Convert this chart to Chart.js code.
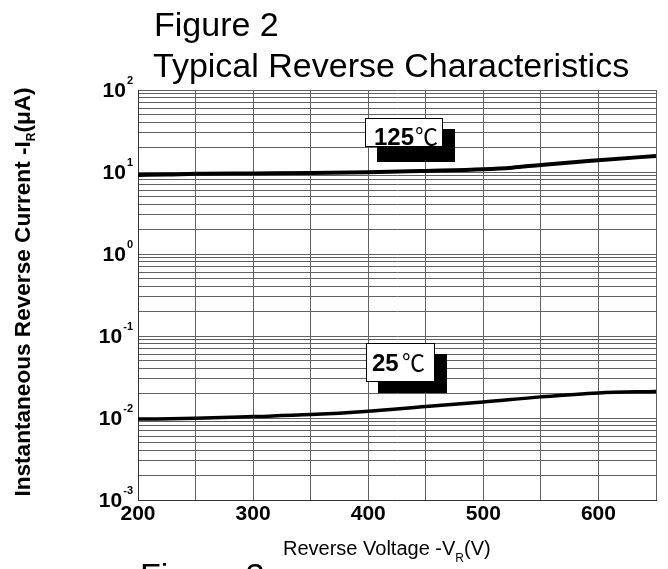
<!DOCTYPE html>
<html>
<head>
<meta charset="utf-8">
<script src="https://cdn.jsdelivr.net/npm/chart.js@4/dist/chart.umd.min.js"></script>
<style>
html,body{margin:0;padding:0;background:#fff;overflow:hidden}
#wrap{position:relative;width:668px;height:569px}
</style>
</head>
<body>
<div id="wrap"><canvas id="c" width="668" height="569"></canvas></div>
<script>
// ---- data ----
const voltages125 = [200, 225, 250, 300, 350, 400, 450, 500, 525, 550, 600, 650];
const current125  = [9.2, 9.3, 9.5, 9.6, 9.7, 9.9, 10.3, 10.8, 11.3, 12.2, 13.9, 15.7];
const voltages25  = [200, 250, 300, 350, 400, 450, 500, 550, 600, 650];
const current25   = [0.0097, 0.0099, 0.0104, 0.0110, 0.0121, 0.0138, 0.0157, 0.0181, 0.0202, 0.0211];
const xTicks      = [200, 250, 300, 350, 400, 450, 500, 550, 600, 650];
const xTickLabels = ['200', '', '300', '', '400', '', '500', '', '600', ''];
const yDecades    = [-3, -2, -1, 0, 1, 2];
const yMinorSteps = [1, 2, 3, 4, 5, 6, 7, 8, 9];
const seriesNames = ['125', '25'];
const titleLines  = ['Figure 2', 'Typical Reverse Characteristics'];

const yTicks = [];
yDecades.forEach((d, i) => {
  if (i === yDecades.length - 1) { yTicks.push(Math.pow(10, d)); return; }
  yMinorSteps.forEach(m => yTicks.push(m * Math.pow(10, d)));
});

const SANS = '"Liberation Sans", Arial, sans-serif';
const GRID = '#606060';

const textPlugin = {
  id: 'texts',
  afterDraw(chart) {
    const ctx = chart.ctx;
    const ys = chart.scales.y;
    ctx.save();
    ctx.fillStyle = '#000';
    ctx.textBaseline = 'alphabetic';

    // titles
    ctx.font = '34px ' + SANS;
    ctx.textAlign = 'left';
    ctx.fillText(titleLines[0], 154, 36);
    ctx.fillText(titleLines[1], 153, 77);
    ctx.fillText('Figure 3', 140, 587);

    // y tick labels 10^n
    yDecades.forEach(d => {
      const py = ys.getPixelForValue(Math.pow(10, d));
      const exp = String(d);
      ctx.font = 'bold 11px ' + SANS;
      const ew = ctx.measureText(exp).width;
      ctx.textAlign = 'left';
      ctx.fillText(exp, 133 - ew, py - 6);
      ctx.font = 'bold 21px ' + SANS;
      ctx.textAlign = 'right';
      ctx.fillText('10', 133 - ew - 1, py + 7);
    });

    // x axis title
    ctx.textAlign = 'left';
    let x = 283;
    ctx.font = '20px ' + SANS;
    const t1 = 'Reverse Voltage -V';
    ctx.fillText(t1, x, 555); x += ctx.measureText(t1).width;
    ctx.font = '12px ' + SANS;
    ctx.fillText('R', x, 562); x += ctx.measureText('R').width;
    ctx.font = '20px ' + SANS;
    ctx.fillText('(V)', x, 555);

    // y axis title (rotated)
    ctx.save();
    ctx.translate(22, 292);
    ctx.rotate(-Math.PI / 2);
    const a = 'Instantaneous Reverse Current -I', b = 'R', c = '(\u03BCA)';
    ctx.font = 'bold 22.6px ' + SANS; const wa = ctx.measureText(a).width, wc = ctx.measureText(c).width;
    ctx.font = 'bold 12px ' + SANS; const wb = ctx.measureText(b).width;
    let tx = -(wa + wb + wc) / 2;
    ctx.font = 'bold 22.6px ' + SANS; ctx.fillText(a, tx, 8); tx += wa;
    ctx.font = 'bold 12px ' + SANS; ctx.fillText(b, tx, 13); tx += wb;
    ctx.font = 'bold 22.6px ' + SANS; ctx.fillText(c, tx, 8);
    ctx.restore();

    // temperature labels with shadow boxes
    const boxes = [
      {name: seriesNames[0], shadow: [377, 129, 78, 33], box: [365, 118, 78, 29], tx: 374, base: 145, cx: 415},
      {name: seriesNames[1], shadow: [378, 354, 69, 39], box: [366, 343, 69, 39], tx: 372, base: 371, cx: 402}
    ];
    boxes.forEach(b => {
      ctx.fillStyle = '#000';
      ctx.fillRect(...b.shadow);
      ctx.fillStyle = '#fff';
      ctx.fillRect(...b.box);
      ctx.strokeStyle = '#000';
      ctx.lineWidth = 1;
      ctx.strokeRect(b.box[0] + 0.5, b.box[1] + 0.5, b.box[2] - 1, b.box[3] - 1);
      ctx.fillStyle = '#000';
      ctx.textAlign = 'left';
      ctx.font = 'bold 24px ' + SANS;
      ctx.fillText(b.name, b.tx, b.base);
      ctx.font = '23px "Noto Sans CJK SC", ' + SANS;
      ctx.fillText('\u2103', b.cx, b.base);
    });
    ctx.restore();
  }
};

new Chart(document.getElementById('c'), {
  type: 'line',
  data: {
    datasets: [
      {
        label: seriesNames[0],
        data: voltages125.map((v, i) => ({x: v, y: current125[i]})),
        borderColor: '#000', borderWidth: 4, pointRadius: 0,
        cubicInterpolationMode: 'monotone', fill: false
      },
      {
        label: seriesNames[1],
        data: voltages25.map((v, i) => ({x: v, y: current25[i]})),
        borderColor: '#000', borderWidth: 3.5, pointRadius: 0,
        cubicInterpolationMode: 'monotone', fill: false
      }
    ]
  },
  options: {
    responsive: false,
    animation: false,
    devicePixelRatio: 1,
    layout: {padding: {top: 90, right: 12, left: 0, bottom: 0}},
    plugins: {legend: {display: false}, tooltip: {enabled: false}, title: {display: false}},
    scales: {
      x: {
        type: 'linear', min: 200, max: 650,
        afterBuildTicks: s => { s.ticks = xTicks.map(v => ({value: v})); },
        afterFit: s => { s.height = 69; },
        ticks: {
          callback: (v, i) => xTickLabels[i],
          autoSkip: false, maxRotation: 0, padding: 2, color: '#000',
          font: {family: SANS, size: 21, weight: 'bold'}
        },
        grid: {color: GRID, lineWidth: 1, drawTicks: false},
        border: {color: '#333', width: 1}
      },
      y: {
        type: 'logarithmic', min: 0.001, max: 100,
        afterBuildTicks: s => { s.ticks = yTicks.map(v => ({value: v})); },
        afterFit: s => { s.width = 138; },
        ticks: {display: false},
        grid: {color: GRID, lineWidth: 1, drawTicks: false},
        border: {color: '#333', width: 1}
      }
    }
  },
  plugins: [textPlugin]
});
</script>
</body>
</html>
